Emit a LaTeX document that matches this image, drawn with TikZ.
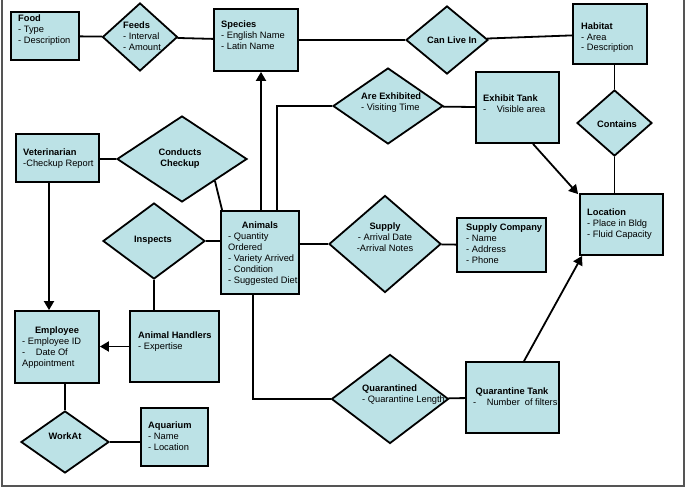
\documentclass[tikz,border=0pt]{standalone}
\usepackage{fontspec}
\setmainfont{Liberation Sans}
\usetikzlibrary{shapes.geometric,arrows.meta}
\definecolor{erfill}{RGB}{188,226,230}
\definecolor{framegray}{RGB}{85,85,85}
\begin{document}
\begin{tikzpicture}[x=1pt,y=-1pt,
  ent/.style={draw=black, line width=1.8pt, fill=erfill, rectangle, inner sep=0pt},
  rel/.style={draw=black, line width=1.8pt, fill=erfill, diamond, inner sep=0pt},
  lbl/.style={font=\fontsize{9.3}{11}\selectfont, inner sep=0pt, align=left, anchor=north west},
  ctr/.style={font=\fontsize{9.3}{11}\selectfont\bfseries, inner sep=0pt, align=center},
  conn/.style={line width=1.8pt},
  arr/.style={conn, -{Triangle[length=9pt,width=10pt]}}]
\useasboundingbox (0,0) rectangle (685,487);
\draw[framegray, line width=2pt] (1.5,0) -- (1.5,485.5) -- (683.5,485.5) -- (683.5,0);

% entities and relationships
\node[ent, minimum width=68pt, minimum height=48pt] (food) at (45,36) {};
\node[rel, minimum width=75pt, minimum height=68pt] (feeds) at (140,37) {};
\node[ent, minimum width=84pt, minimum height=62pt] (species) at (256,40) {};
\node[rel, minimum width=82pt, minimum height=68pt] (canlive) at (447,40) {};
\node[ent, minimum width=74pt, minimum height=60pt] (habitat) at (610,34) {};
\node[rel, minimum width=75pt, minimum height=66pt] (contains) at (614.5,123) {};
\node[rel, minimum width=110pt, minimum height=76pt] (areex) at (388,106) {};
\node[ent, minimum width=83pt, minimum height=71pt] (exhtank) at (517.5,107.5) {};
\node[ent, minimum width=83pt, minimum height=61pt] (location) at (621.5,224.5) {};
\node[rel, minimum width=112pt, minimum height=97pt] (supply) at (385,244) {};
\node[ent, minimum width=89pt, minimum height=54pt] (supplyco) at (501.5,245) {};
\node[rel, minimum width=117pt, minimum height=89pt] (quar) at (390,399) {};
\node[ent, minimum width=93pt, minimum height=71pt] (qtank) at (512.5,397.5) {};
\node[ent, minimum width=83pt, minimum height=48pt] (vet) at (57.5,158) {};
\node[rel, minimum width=130pt, minimum height=86pt] (cc) at (182,159) {};
\node[ent, minimum width=78pt, minimum height=83pt] (animals) at (260,252.5) {};
\node[rel, minimum width=102pt, minimum height=76pt] (inspects) at (154,241) {};
\node[ent, minimum width=84pt, minimum height=72pt] (employee) at (57,347) {};
\node[ent, minimum width=89pt, minimum height=71pt] (ah) at (174.5,346.5) {};
\node[rel, minimum width=88pt, minimum height=62pt] (workat) at (65,442) {};
\node[ent, minimum width=67pt, minimum height=58pt] (aquarium) at (174.5,437) {};

% connectors
\draw[conn] (food) -- (feeds);
\draw[conn] (feeds) -- (species);
\draw[conn] (species) -- (canlive);
\draw[conn] (canlive) -- (habitat);
\draw[conn] (contains.north) -- (contains.north |- habitat.south);
\draw[conn] (contains.south) -- (contains.south |- location.north);
\draw[arr] ([xshift=15.5pt]exhtank.south) -- ([shift={(-1pt,-1pt)}]location.north west);
\draw[conn] (areex) -- (exhtank);
\draw[conn] ([xshift=17pt]animals.north) |- (areex.west);
\draw[arr] ([xshift=1pt]animals.north) -- ([xshift=1pt]animals.north |- species.south);
\draw[conn] (animals.east |- supply.west) -- (supply.west);
\draw[conn] (supply) -- (supplyco);
\draw[conn] ([xshift=-7pt]animals.south) |- (quar.west);
\draw[conn] (quar) -- (qtank);
\draw[arr] ([xshift=11.5pt]qtank.north) -- ([xshift=3pt]location.south west);
\draw[conn] (vet.east |- cc.west) -- (cc.west);
\draw[conn] (cc.south east) -- ([xshift=2pt]animals.north west);
\draw[conn] (inspects.east) -- (inspects.east -| animals.west);
\draw[conn] (inspects.south) -- (inspects.south |- ah.north);
\draw[arr] ([xshift=-8.5pt]vet.south) -- ([xshift=-8.5pt]vet.south |- employee.north);
\draw[arr] (ah.west) -- (ah.west -| employee.east);
\draw[conn] (employee.south -| workat.north) -- (workat.north);
\draw[conn] (workat.east) -- (workat.east -| aquarium.west);

% texts
\node[lbl] (tfood) at (18,15) {\textbf{Food}\\- Type\\- Description};
\node[lbl] (tfeeds) at (123,22) {\textbf{Feeds}\\- Interval\\- Amount};
\node[lbl] (tspecies) at (221,21) {\textbf{Species}\\- English Name\\- Latin Name};
\node[ctr] (tcanlive) at (452,40.5) {Can Live In};
\node[lbl, font=\fontsize{9.3}{10.2}\selectfont] (thabitat) at (581,23) {\textbf{Habitat}\\- Area\\- Description};
\node[ctr] (tcontains) at (617,124.5) {Contains};
\node[lbl] (tareex) at (361,93) {\textbf{Are Exhibited}\\- Visiting Time};
\node[lbl] (texh) at (483,95) {\textbf{Exhibit Tank}\\-\hspace{10.5pt}Visible area};
\node[lbl] (tvet) at (23,149) {\textbf{Veterinarian}\\-Checkup Report};
\node[ctr] (tcc) at (180,158.5) {Conducts\\Checkup};
\node[ctr] (tinspects) at (153,240.5) {Inspects};
\node[ctr, anchor=north] (tanimals) at (260,222) {Animals};
\node[lbl] (tanimalsb) at (228,233) {- Quantity\\Ordered\\- Variety Arrived\\- Condition\\- Suggested Diet};
\node[lbl, anchor=north, align=center] (tsupply) at (385,223) {\textbf{Supply}\\- Arrival Date\\-Arrival Notes};
\node[lbl] (tsupplyco) at (466,224) {\textbf{Supply Company}\\- Name\\- Address\\- Phone};
\node[lbl] (tlocation) at (587,209) {\textbf{Location}\\- Place in Bldg\\- Fluid Capacity};
\node[ctr, anchor=north] (temployee) at (57,327) {Employee};
\node[lbl] (temployeeb) at (22,338) {- Employee ID\\-\hspace{10.5pt}Date Of\\Appointment};
\node[lbl] (tah) at (138,332) {\textbf{Animal Handlers}\\- Expertise};
\node[ctr] (tworkat) at (65,436.5) {WorkAt};
\node[lbl] (taquarium) at (148,422) {\textbf{Aquarium}\\- Name\\- Location};
\node[lbl] (tquar) at (362,385) {\textbf{Quarantined}\\- Quarantine Length};
\node[ctr, anchor=north] (tqtank) at (512,388) {Quarantine Tank};
\node[lbl] (tqtankb) at (473,399) {-\hspace{10.5pt}Number\hspace{5pt}of filters};
\end{tikzpicture}
\end{document}
